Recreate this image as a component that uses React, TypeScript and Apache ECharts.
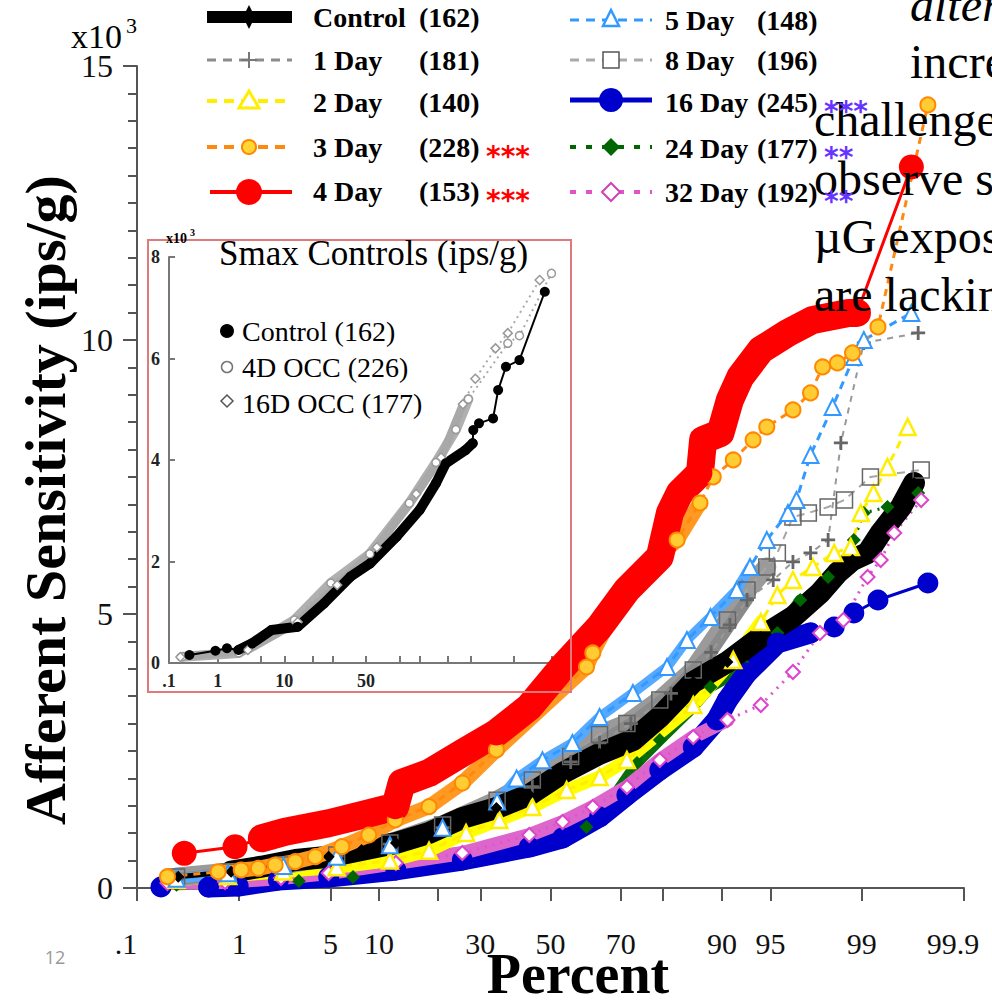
import React, { useEffect, useRef } from "react";
import * as echarts from "echarts";

// ---------------- data (percentile, value in ips/g) ----------------
const xTickPercents = [0.1, 1, 5, 10, 20, 30, 50, 70, 80, 90, 95, 99, 99.9];
const xLabelPercents = [0.1, 1, 5, 10, 30, 50, 70, 90, 95, 99, 99.9];
const xLabelTexts = [".1", "1", "5", "10", "30", "50", "70", "90", "95", "99", "99.9"];
const yLabelValues = [0, 5000, 10000, 15000];

const insetXTickPercents = [1, 5, 10, 20, 30, 50, 70, 80, 90, 95, 99];
const insetXLabelPercents = [0.1, 1, 10, 50];
const insetXLabelTexts = [".1", "1", "10", "50"];

const controlPct = [0.27, 0.85, 1.54, 2.84, 4.87, 7.9, 12.4, 18.2, 25.5, 34.3, 43.7, 53.6, 64.3, 73.1, 79.3, 85.7, 90.7, 94.2, 96.5, 97.8, 98.4, 98.8, 99.11, 99.32, 99.56, 99.67];
const controlVal = [206, 297, 389, 511, 571, 694, 821, 1004, 1278, 1460, 1700, 2100, 2450, 2700, 3121, 3760, 4125, 4581, 4946, 5384, 5749, 5986, 6114, 6479, 6953, 7391];

const day1Pct = [0.26, 0.8, 2.3, 5.5, 11.5, 21, 34.5, 44.6, 56, 64.3, 72.6, 81.6, 88.5, 91, 92.9, 95.2, 96.5, 97.4, 98.1, 98.5, 99.04, 99.7];
const day1Val = [160, 270, 400, 580, 800, 1100, 1500, 1850, 2300, 2650, 3000, 3550, 4300, 4800, 5256, 5621, 5950, 6114, 6351, 8121, 9946, 10129];

const day2Pct = [0.26, 0.8, 2.3, 5.5, 11.5, 18.2, 26.4, 35.1, 44.6, 54.8, 64.3, 71.6, 85.7, 91.4, 94.2, 95.5, 96.5, 97.5, 98.3, 98.76, 98.98, 99.21, 99.41, 99.62];
const day2Val = [150, 220, 300, 380, 500, 680, 1004, 1241, 1478, 1789, 2026, 2336, 3340, 4161, 4855, 5347, 5621, 5858, 6114, 6223, 6844, 7209, 7683, 8413];

const day3Pct = [0.21, 0.65, 1.04, 1.45, 1.98, 2.82, 3.94, 5.94, 8.72, 12.3, 18.2, 25.5, 34.3, 60.6, 62.4, 71.6, 82.8, 86.8, 88.8, 91.4, 93.5, 94.7, 96.5, 97.4, 97.9, 98.4, 98.8, 99.28, 99.76];
const day3Val = [206, 297, 329, 360, 420, 480, 571, 754, 967, 1241, 1484, 1916, 2519, 4033, 4289, 5493, 6351, 7026, 7501, 7811, 8176, 8413, 8724, 9034, 9508, 9581, 9764, 10238, 14290];

const day4Pct = [0.31, 0.92, 1.55, 2.37, 4.87, 8.7, 12.3, 13.3, 18.2, 25.5, 34.3, 43.7, 53.6, 64.3, 71.6, 79.3, 81.4, 83.3, 86.8, 87.3, 89.8, 91.0, 92.2, 94.2, 96.2, 97.5, 98.7, 98.9, 99.65];
const day4Val = [633, 754, 907, 1027, 1181, 1363, 1484, 1916, 2099, 2464, 2829, 3303, 4033, 4763, 5439, 6041, 6844, 7209, 7574, 8176, 8304, 8906, 9326, 9819, 10129, 10366, 10494, 10494, 13158];

const day5Pct = [0.26, 0.8, 2.3, 5.5, 11.5, 21, 34.5, 40, 47.6, 56.5, 64.3, 73.1, 80.8, 84.6, 88.4, 91.8, 93.2, 94.7, 96.2, 96.7, 97.4, 98.25, 98.83, 99.04, 99.65];
const day5Val = [170, 270, 400, 570, 780, 1100, 1580, 2000, 2330, 2646, 3121, 3559, 4033, 4526, 4946, 5439, 5858, 6351, 6844, 7081, 7902, 8778, 9690, 10001, 10494];

const day8Pct = [0.26, 0.8, 2.3, 5.5, 11.5, 21, 34.5, 44.6, 56, 64.3, 71.6, 79.3, 85.7, 90.7, 92.9, 94.7, 95.5, 96.5, 97.3, 98.1, 98.6, 99.16, 99.72];
const day8Val = [200, 290, 420, 600, 820, 1150, 1600, 1970, 2400, 2800, 3000, 3431, 3979, 4891, 5438, 5858, 6114, 6771, 6844, 6953, 7081, 7501, 7629];

const day16Pct = [0.18, 0.53, 0.98, 2.1, 4.87, 12.4, 25.5, 43.7, 53.6, 64.3, 71.6, 79.3, 85.7, 89.3, 90.7, 92.9, 95.5, 97.4, 98.3, 98.83, 99.28, 99.76];
const day16Val = [18, 18, 36, 146, 200, 329, 511, 748, 913, 1296, 1697, 2154, 2573, 3066, 3431, 3924, 4471, 4654, 4763, 5019, 5256, 5566];

const day24Pct = [0.26, 1, 3, 7, 12.9, 26.4, 44.6, 53.6, 60.6, 64.3, 74.1, 79.3, 85.7, 88.4, 92.9, 95.5, 96.9, 98.1, 98.83, 99.04, 99.41, 99.7];
const day24Val = [60, 90, 130, 200, 274, 456, 748, 930, 1113, 1296, 2281, 2701, 3303, 3668, 4033, 4654, 5256, 5676, 6351, 6844, 6953, 7209];

const day32Pct = [0.21, 0.75, 2.2, 4.87, 12.4, 25.5, 43.7, 53.6, 62.4, 71.6, 79.3, 85.7, 90.7, 94.2, 96.5, 97.8, 98.57, 99.11, 99.32, 99.49, 99.72];
const day32Val = [91, 110, 183, 274, 456, 639, 967, 1205, 1478, 1843, 2336, 2756, 3066, 3340, 3942, 4654, 4891, 5676, 5986, 6479, 7081];

// inset: Smax controls
const insetControlPct = [0.28, 0.91, 1.46, 2.28, 3.7, 6.9, 14.2, 25.6, 40.4, 52.7, 68.4, 80, 86.4, 89.5, 94.1, 95.3, 95.4, 96.2, 97.7, 98.1, 98.6, 99.2, 99.75];
const insetControlVal = [158, 242, 290, 256, 388, 650, 715, 1176, 1700, 1964, 2488, 3014, 3540, 3934, 4196, 4328, 4590, 4722, 4820, 5378, 5837, 5969, 7315];
const inset4DPct = [0.2, 2.3, 13.1, 29.1, 52.4, 75.2, 86.4, 92.1, 94.6, 98.7, 99.2, 99.82];
const inset4DVal = [124, 197, 847, 1576, 2150, 3150, 3950, 4600, 5200, 6300, 6450, 7677];
const inset16DPct = [0.18, 3.2, 14.2, 32.6, 56.8, 78.5, 88.1, 93.6, 95.7, 97.9, 98.7, 99.68];
const inset16DVal = [118, 256, 808, 1537, 2280, 3330, 4050, 5100, 5600, 6200, 6500, 7545];

// ---------------- helpers ----------------
function probit(p: number): number {
  const a = [-3.969683028665376e1, 2.209460984245205e2, -2.759285104469687e2, 1.38357751867269e2, -3.066479806614716e1, 2.506628277459239];
  const b = [-5.447609879822406e1, 1.615858368580409e2, -1.556989798598866e2, 6.680131188771972e1, -1.328068155288572e1];
  const c = [-7.784894002430293e-3, -3.223964580411365e-1, -2.400758277161838, -2.549732539343734, 4.374664141464968, 2.938163982698783];
  const d = [7.784695709041462e-3, 3.224671290700398e-1, 2.445134137142996, 3.754408661907416];
  const plow = 0.02425;
  if (p < plow) {
    const q = Math.sqrt(-2 * Math.log(p));
    return (((((c[0] * q + c[1]) * q + c[2]) * q + c[3]) * q + c[4]) * q + c[5]) / ((((d[0] * q + d[1]) * q + d[2]) * q + d[3]) * q + 1);
  }
  if (p <= 1 - plow) {
    const q = p - 0.5;
    const r = q * q;
    return ((((((a[0] * r + a[1]) * r + a[2]) * r + a[3]) * r + a[4]) * r + a[5]) * q) / (((((b[0] * r + b[1]) * r + b[2]) * r + b[3]) * r + b[4]) * r + 1);
  }
  const q = Math.sqrt(-2 * Math.log(1 - p));
  return -(((((c[0] * q + c[1]) * q + c[2]) * q + c[3]) * q + c[4]) * q + c[5]) / ((((d[0] * q + d[1]) * q + d[2]) * q + d[3]) * q + 1);
}
const zp = (pct: number) => probit(pct / 100);

const SERIF = "'Liberation Serif', 'Times New Roman', serif";
const PLUS = "path://M4,0H6V4H10V6H6V10H4V6H0V4H4Z";

type Def = {
  name: string; pct: number[]; val: number[]; color: string; dash: any; width: number;
  symbol: string; size: number; fill: string; border: string; bw: number;
  band: number[]; bandW: number; bandColor: string;
};

const mainDefs: Def[] = [
  { name: "24 Day", pct: day24Pct, val: day24Val, color: "#006600", dash: [2, 6], width: 3, symbol: "diamond", size: 14, fill: "#006600", border: "#006600", bw: 0, band: [0.2, 96.9], bandW: 11, bandColor: "#0d6e0d" },
  { name: "16 Day", pct: day16Pct, val: day16Val, color: "#0000cc", dash: "solid", width: 3, symbol: "circle", size: 21, fill: "#0000cc", border: "#0000cc", bw: 0, band: [0.5, 97.4], bandW: 21, bandColor: "#0000cc" },
  { name: "32 Day", pct: day32Pct, val: day32Val, color: "#dd55cc", dash: [2, 6], width: 3, symbol: "diamond", size: 14, fill: "#ffffff", border: "#dd44cc", bw: 2, band: [0.2, 92], bandW: 14, bandColor: "#dd66cc" },
  { name: "2 Day", pct: day2Pct, val: day2Val, color: "#ffee00", dash: [8, 6], width: 3, symbol: "triangle", size: 16, fill: "#ffffff", border: "#ffee00", bw: 2.5, band: [0.2, 94.2], bandW: 13, bandColor: "#ffff00" },
  { name: "8 Day", pct: day8Pct, val: day8Val, color: "#a6a6a6", dash: [8, 6], width: 2, symbol: "rect", size: 16, fill: "rgba(255,255,255,0)", border: "#666666", bw: 1.5, band: [0.2, 94.7], bandW: 19, bandColor: "#9a9a9a" },
  { name: "1 Day", pct: day1Pct, val: day1Val, color: "#999999", dash: [6, 6], width: 2, symbol: PLUS, size: 14, fill: "#666666", border: "#666666", bw: 0, band: [0.2, 92.9], bandW: 12, bandColor: "#8a8a8a" },
  { name: "5 Day", pct: day5Pct, val: day5Val, color: "#3399ff", dash: [8, 6], width: 3, symbol: "triangle", size: 16, fill: "#ffffff", border: "#3399ff", bw: 2, band: [0.2, 93.2], bandW: 10, bandColor: "#55aaff" },
  { name: "Control", pct: controlPct, val: controlVal, color: "#000000", dash: "solid", width: 5, symbol: "diamond", size: 12, fill: "#000000", border: "#000000", bw: 0, band: [0.8, 99.7], bandW: 22, bandColor: "#000000" },
  { name: "3 Day", pct: day3Pct, val: day3Val, color: "#ff8811", dash: [7, 6], width: 3, symbol: "circle", size: 15, fill: "#ffcc33", border: "#ff8800", bw: 2, band: [0.6, 88], bandW: 15, bandColor: "#ff9922" },
  { name: "4 Day", pct: day4Pct, val: day4Val, color: "#ff0000", dash: "solid", width: 3, symbol: "circle", size: 25, fill: "#ff0000", border: "#ff0000", bw: 0, band: [1.5, 98.9], bandW: 28, bandColor: "#ff0000" },
];

const insetDefs: Def[] = [
  { name: "4D OCC", pct: inset4DPct, val: inset4DVal, color: "#aaaaaa", dash: [2, 4], width: 2, symbol: "circle", size: 8, fill: "#ffffff", border: "#999999", bw: 1.5, band: [0.1, 95], bandW: 10, bandColor: "#b0b0b0" },
  { name: "16D OCC", pct: inset16DPct, val: inset16DVal, color: "#aaaaaa", dash: [2, 4], width: 2, symbol: "diamond", size: 9, fill: "#ffffff", border: "#999999", bw: 1.5, band: [0.1, 94], bandW: 8, bandColor: "#a8a8a8" },
  { name: "Control (inset)", pct: insetControlPct, val: insetControlVal, color: "#000000", dash: "solid", width: 2, symbol: "circle", size: 10, fill: "#000000", border: "#000000", bw: 0, band: [2.2, 95.3], bandW: 10, bandColor: "#000000" },
];

function buildPair(d: Def, axisIdx: number) {
  const pts = d.pct.map((p, i) => [zp(p), d.val[i]]);
  const bandPts = d.pct
    .map((p, i) => (p >= d.band[0] && p <= d.band[1] ? [zp(p), d.val[i]] : null))
    .filter((x) => x !== null);
  return [
    {
      type: "line", name: d.name + " band", xAxisIndex: axisIdx, yAxisIndex: axisIdx,
      data: bandPts, symbol: "none", silent: true, emphasis: { disabled: true },
      lineStyle: { color: d.bandColor, width: d.bandW, cap: "round", join: "round" },
    },
    {
      type: "line", name: d.name, xAxisIndex: axisIdx, yAxisIndex: axisIdx,
      data: pts, symbol: d.symbol, symbolSize: d.size, showAllSymbol: true, silent: true,
      emphasis: { disabled: true },
      lineStyle: { color: d.color, width: d.width, type: d.dash },
      itemStyle: { color: d.fill, borderColor: d.border, borderWidth: d.bw },
    },
  ];
}

function labelFor(v: number, pcts: number[], texts: string[]) {
  for (let i = 0; i < pcts.length; i++) if (Math.abs(zp(pcts[i]) - v) < 1e-6) return texts[i];
  return "";
}

// ---------------- graphic helpers ----------------
const T = (x: number, y: number, text: string, size: number, opts: any = {}) => ({
  type: "text", x, y, z: opts.z || 50,
  style: {
    text, fontSize: size, fontFamily: opts.family || SERIF, fontWeight: opts.weight || "normal",
    fontStyle: opts.style || "normal", fill: opts.fill || "#000",
    align: opts.align || "left", textAlign: opts.align || "left",
    verticalAlign: opts.va || "middle", textVerticalAlign: opts.va || "middle",
  },
  rotation: opts.rotation || 0,
});
const L = (x1: number, y1: number, x2: number, y2: number, stroke: string, lineWidth: number, lineDash?: number[]) => ({
  type: "line", z: 50, shape: { x1, y1, x2, y2 }, style: { stroke, lineWidth, lineDash: lineDash || null },
});

function legendGraphics() {
  const g: any[] = [];
  const bold = { weight: "bold" };
  const lx1 = 207, lx2 = 292, lc = 249;
  g.push(L(lx1, 17, lx2, 17, "#000", 12));
  g.push({ type: "polygon", z: 51, shape: { points: [[lc, 5], [lc + 6, 17], [lc, 29], [lc - 6, 17]] }, style: { fill: "#000" } });
  g.push(L(lx1, 60, lx2, 60, "#8c8c8c", 3, [9, 7]));
  g.push(L(lc - 8, 60, lc + 8, 60, "#777", 2));
  g.push(L(lc, 52, lc, 68, "#777", 2));
  g.push(L(lx1, 101, lx2, 101, "#ffee00", 4, [10, 7]));
  g.push({ type: "polygon", z: 51, shape: { points: [[lc, 91], [lc + 10, 108], [lc - 10, 108]] }, style: { fill: "#fff", stroke: "#ffee00", lineWidth: 3 } });
  g.push(L(lx1, 147, lx2, 147, "#ff8811", 4, [10, 7]));
  g.push({ type: "circle", z: 51, shape: { cx: lc, cy: 147, r: 7 }, style: { fill: "#ffd633", stroke: "#ff8800", lineWidth: 2 } });
  g.push(L(lx1 + 3, 192, lx2, 192, "#ff0000", 4));
  g.push({ type: "circle", z: 51, shape: { cx: lc, cy: 192, r: 13 }, style: { fill: "#ff0000" } });
  const leftRows = [
    ["Control", "(162)", 17, ""],
    ["1 Day", "(181)", 60, ""],
    ["2 Day", "(140)", 102, ""],
    ["3 Day", "(228)", 147, "***"],
    ["4 Day", "(153)", 191, "***"],
  ];
  leftRows.forEach((r: any) => {
    g.push(T(313, r[2], r[0], 28, bold));
    g.push(T(419, r[2], r[1], 28, bold));
    if (r[3]) g.push(T(486, r[2] + 9, r[3], 28, { weight: "bold", fill: "#ff0000", family: "'DejaVu Sans', sans-serif" }));
  });
  const rx1 = 570, rx2 = 652, rc = 611;
  g.push(L(rx1, 20, rx2, 20, "#3399ff", 3, [9, 7]));
  g.push({ type: "polygon", z: 51, shape: { points: [[rc, 10], [rc + 8, 26], [rc - 8, 26]] }, style: { fill: "#fff", stroke: "#3399ff", lineWidth: 2.5 } });
  g.push(L(rx1, 60, rx2, 60, "#aaaaaa", 3, [9, 7]));
  g.push({ type: "rect", z: 51, shape: { x: rc - 8, y: 52, width: 16, height: 16 }, style: { fill: "#fff", stroke: "#555", lineWidth: 1.5 } });
  g.push(L(rc - 5, 60, rc + 5, 60, "#000", 3));
  g.push(L(rx1, 100, rx2, 100, "#0000cc", 5));
  g.push({ type: "circle", z: 51, shape: { cx: rc, cy: 100, r: 12 }, style: { fill: "#0000cc" } });
  g.push(L(rx1, 147, rx2, 147, "#006600", 4, [6, 10]));
  g.push({ type: "polygon", z: 51, shape: { points: [[rc, 138], [rc + 9, 147], [rc, 156], [rc - 9, 147]] }, style: { fill: "#006600" } });
  g.push(L(rx1, 192, rx2, 192, "#dd55cc", 4, [6, 10]));
  g.push({ type: "polygon", z: 51, shape: { points: [[rc, 183], [rc + 9, 192], [rc, 201], [rc - 9, 192]] }, style: { fill: "#fff", stroke: "#cc44bb", lineWidth: 2 } });
  const rightRows = [
    ["5 Day", "(148)", 20, ""],
    ["8 Day", "(196)", 60, ""],
    ["16 Day", "(245)", 102, "***"],
    ["24 Day", "(177)", 148, "**"],
    ["32 Day", "(192)", 192, "**"],
  ];
  rightRows.forEach((r: any) => {
    g.push(T(665, r[2], r[0], 28, bold));
    g.push(T(757, r[2], r[1], 28, bold));
    if (r[3]) g.push(T(824, r[2] + 9, r[3], 28, { weight: "bold", fill: "#6633ff", family: "'DejaVu Sans', sans-serif", z: 60 }));
  });
  return g;
}

function otherGraphics() {
  const g: any[] = [];
  // slide text in background (cut off by the page edge in the reference)
  g.push(T(910, 4, "alter", 48, { style: "italic", z: 5 }));
  g.push(T(910, 61, "incre", 48, { z: 5 }));
  g.push(T(814, 119, "challenge", 48, { z: 5 }));
  g.push(T(814, 178, "observe s", 48, { z: 5 }));
  g.push(T(814, 236, "\u00b5G expos", 48, { z: 5 }));
  g.push(T(814, 294, "are lackin", 48, { z: 5 }));
  // axis titles
  g.push(T(45, 500, "Afferent Sensitivity (ips/g)", 58, { weight: "bold", align: "center", rotation: Math.PI / 2 }));
  g.push(T(578, 974, "Percent", 56, { weight: "bold", align: "center" }));
  // x10^3
  g.push(T(71, 36, "x10", 34));
  g.push(T(126, 25, "3", 22));
  // slide number
  g.push(T(55, 957, "12", 18, { family: "'Open Sans', 'Noto Sans', sans-serif", fill: "#999", align: "center" }));
  // inset frame and texts
  g.push({ type: "rect", z: 40, shape: { x: 148, y: 240, width: 423, height: 452 }, style: { fill: "none", stroke: "#e07a7a", lineWidth: 2 } });
  g.push(T(166, 238, "x10", 14, { weight: "bold" }));
  g.push(T(190, 232, "3", 10, { weight: "bold" }));
  g.push(T(219, 253, "Smax Controls (ips/g)", 35));
  g.push({ type: "circle", z: 51, shape: { cx: 227, cy: 331, r: 7 }, style: { fill: "#000" } });
  g.push({ type: "circle", z: 51, shape: { cx: 227, cy: 367, r: 5.5 }, style: { fill: "#fff", stroke: "#777", lineWidth: 1.5 } });
  g.push({ type: "polygon", z: 51, shape: { points: [[227, 395], [233, 401], [227, 407], [221, 401]] }, style: { fill: "#fff", stroke: "#555", lineWidth: 1.5 } });
  g.push(T(242, 331, "Control (162)", 28));
  g.push(T(242, 367, "4D OCC (226)", 28));
  g.push(T(242, 403, "16D OCC (177)", 28));
  return g;
}

export default function App() {
  const ref = useRef<HTMLDivElement>(null);
  useEffect(() => {
    if (!ref.current) return;
    const chart = echarts.init(ref.current, null, { renderer: "svg" });
    const series: any[] = [];
    mainDefs.forEach((d) => series.push(...buildPair(d, 0)));
    insetDefs.forEach((d) => series.push(...buildPair(d, 1)));

    const mainLine = { show: true, onZero: false, lineStyle: { color: "#555", width: 2 } };
    const insetLine = { show: true, onZero: false, lineStyle: { color: "#777", width: 2 } };
    const xFmt = (v: number) => {
      const t = labelFor(v, xLabelPercents, xLabelTexts);
      if (t === ".1") return "{l|.1}";
      if (t === "99.9") return "{r|99.9}";
      return t;
    };
    const option: any = {
      animation: false,
      backgroundColor: "#ffffff",
      grid: [
        { left: 137, right: 28, top: 66, bottom: 113, containLabel: false },
        { left: 169, right: 440, top: 257, bottom: 338, containLabel: false },
      ],
      xAxis: [
        {
          type: "value", gridIndex: 0, min: zp(0.1), max: zp(99.9),
          axisLine: mainLine, splitLine: { show: false },
          axisTick: { show: true, length: 13, lineStyle: { color: "#555", width: 2 }, customValues: xTickPercents.map(zp) },
          axisLabel: {
            customValues: xLabelPercents.map(zp), margin: 40, fontSize: 30, fontFamily: SERIF, color: "#111",
            formatter: xFmt,
            rich: {
              l: { fontSize: 30, fontFamily: SERIF, color: "#111", padding: [0, 22, 0, 0] },
              r: { fontSize: 30, fontFamily: SERIF, color: "#111", padding: [0, 22, 0, 0] },
            },
          },
        },
        {
          type: "value", gridIndex: 1, min: zp(0.1), max: 2.92,
          axisLine: insetLine, splitLine: { show: false },
          axisTick: { show: true, inside: true, length: 7, lineStyle: { color: "#777", width: 2 }, customValues: insetXTickPercents.map(zp).concat([2.92]) },
          axisLabel: {
            customValues: insetXLabelPercents.map(zp), margin: 9, fontSize: 18, fontWeight: "bold", fontFamily: SERIF, color: "#222",
            formatter: (v: number) => labelFor(v, insetXLabelPercents, insetXLabelTexts),
          },
        },
      ],
      yAxis: [
        {
          type: "value", gridIndex: 0, min: 0, max: 15000, interval: 5000,
          axisLine: mainLine, splitLine: { show: false },
          axisTick: { show: true, length: 14, lineStyle: { color: "#555", width: 2 } },
          minorTick: { show: true, splitNumber: 10, length: 9, lineStyle: { color: "#555", width: 2 } },
          axisLabel: {
            customValues: yLabelValues, margin: 24, fontSize: 32, fontFamily: SERIF, color: "#111",
            formatter: (v: number) => String(v / 1000),
          },
        },
        {
          type: "value", gridIndex: 1, min: 0, max: 8000, interval: 2000,
          axisLine: insetLine, splitLine: { show: false },
          axisTick: { show: true, inside: true, length: 6, lineStyle: { color: "#777", width: 2 } },
          axisLabel: { margin: 9, fontSize: 18, fontWeight: "bold", fontFamily: SERIF, color: "#222", formatter: (v: number) => String(v / 1000) },
        },
      ],
      series,
      graphic: { elements: [...otherGraphics(), ...legendGraphics()] },
    };
    chart.setOption(option);
    return () => chart.dispose();
  }, []);
  return <div ref={ref} style={{ position: "absolute", left: 0, top: 0, width: 992, height: 1001 }} />;
}
